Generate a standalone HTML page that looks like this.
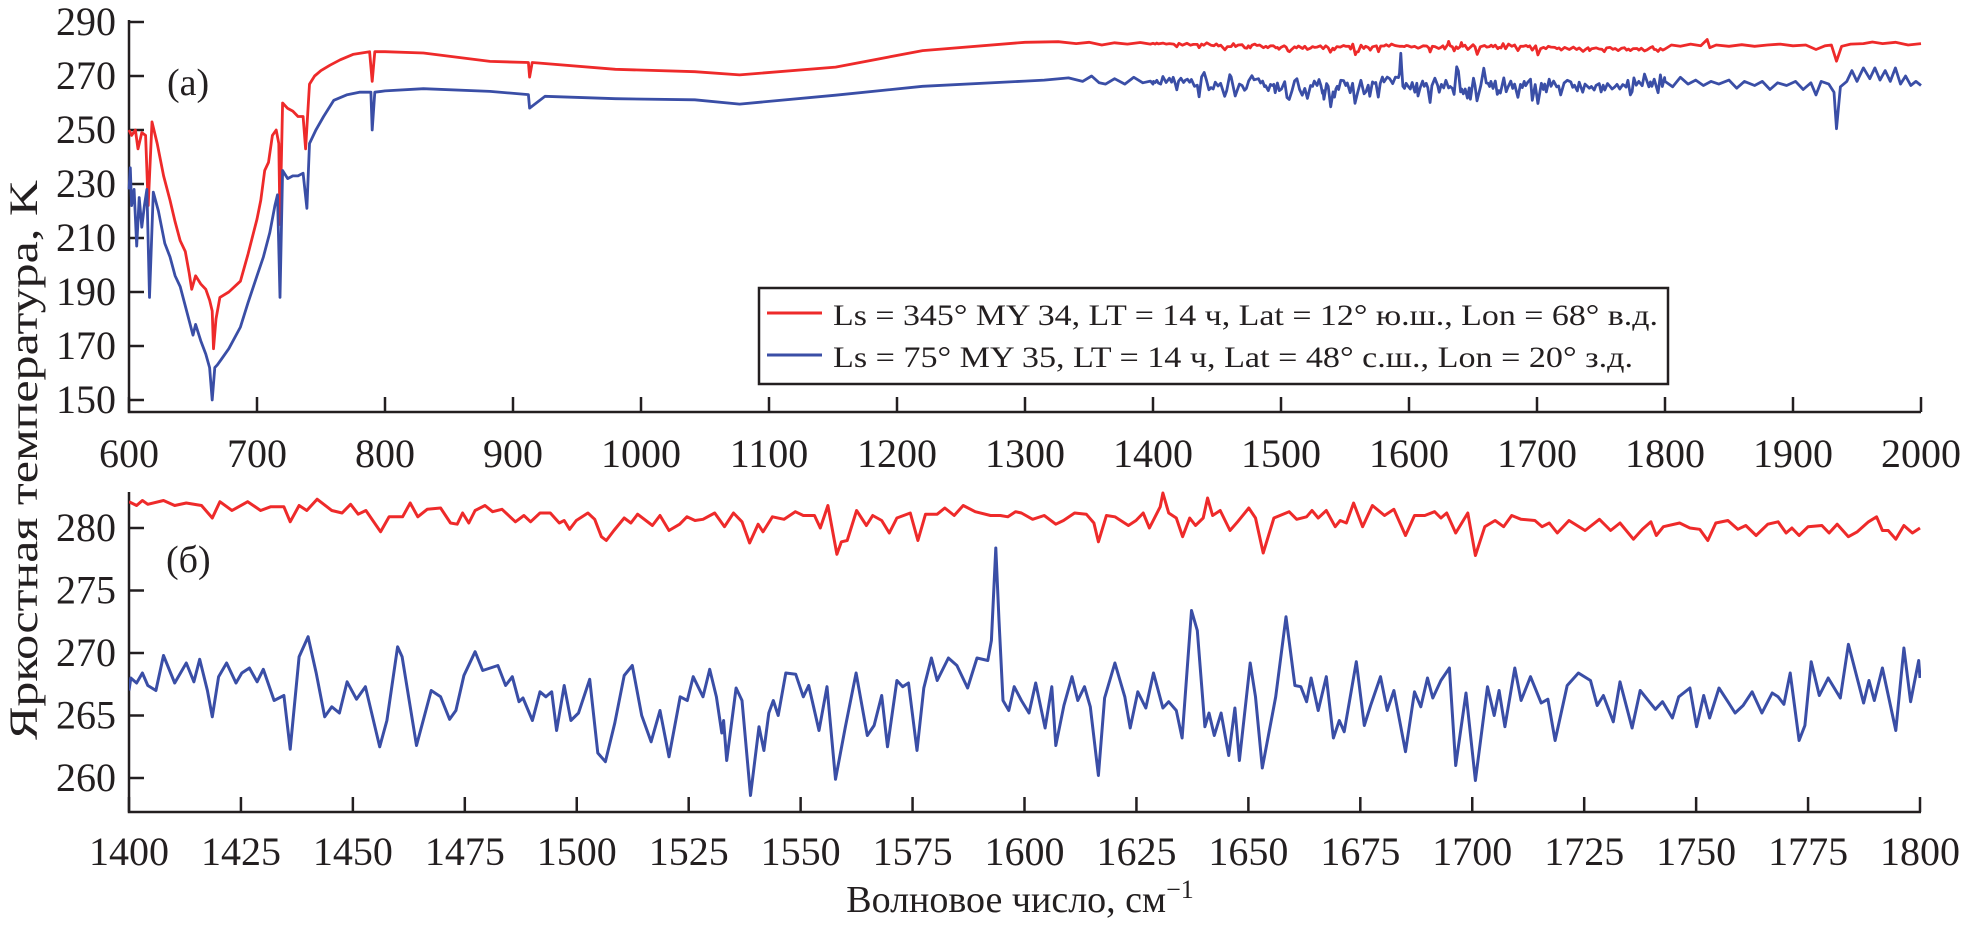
<!DOCTYPE html>
<html><head><meta charset="utf-8"><style>
html,body{margin:0;padding:0;background:#fff;}
svg{display:block;font-family:"Liberation Serif","DejaVu Serif",serif;}
</style></head><body>
<svg id="chart" width="1961" height="927" viewBox="0 0 1961 927" xmlns="http://www.w3.org/2000/svg">
<g id="top-panel"></g>
<g id="bottom-panel"></g>
<text transform="translate(37,460) rotate(-90)" text-anchor="middle" font-size="40" textLength="560" lengthAdjust="spacingAndGlyphs" fill="#231f20">Яркостная температура, K</text>
<text x="1020" y="912" text-anchor="middle" font-size="38" fill="#231f20">Волновое число, см<tspan dy="-14" font-size="26">−1</tspan></text>
<text x="167" y="95" font-size="38" fill="#231f20">(a)</text>
<text x="166" y="572" font-size="38" fill="#231f20">(б)</text>
<g>
<rect x="759" y="288" width="909" height="96" fill="#fff" stroke="#231f20" stroke-width="2.5"/>
<line x1="767" y1="313" x2="822" y2="313" stroke="#ee2a2a" stroke-width="3"/>
<text x="833" y="325" font-size="30" textLength="825" lengthAdjust="spacingAndGlyphs" fill="#231f20">Ls = 345° MY 34, LT = 14 ч, Lat = 12° ю.ш., Lon = 68° в.д.</text>
<line x1="767" y1="355" x2="822" y2="355" stroke="#3a4ea6" stroke-width="3"/>
<text x="833" y="367" font-size="30" textLength="800" lengthAdjust="spacingAndGlyphs" fill="#231f20">Ls = 75° MY 35, LT = 14 ч, Lat = 48° с.ш., Lon = 20° з.д.</text>
</g>
</svg>
<script>
// ---- data ----
const topXTicks = [600,700,800,900,1000,1100,1200,1300,1400,1500,1600,1700,1800,1900,2000];
const topYTicks = [150,170,190,210,230,250,270,290];
const botXTicks = [1400,1425,1450,1475,1500,1525,1550,1575,1600,1625,1650,1675,1700,1725,1750,1775,1800];
const botYTicks = [260,265,270,275,280];

const redTop = [[600,250],[602,248],[605,250],[607,243],[610,249],[613,248],[615,222],[618,253],[622,245],[627,233],[632,224],[636,216],[640,209],[644,205],[647,197],[649,191],[652,196],[656,193],[660,191],[663,187],[665,183],[666,169],[668,180],[671,188],[678,190],[687,194],[693,204],[700,217],[703,224],[706,235],[709,238],[712,248],[715,250],[717,245],[718,215],[720,260],[724,258],[728,257],[732,255],[736,255],[738,243],[741,267],[745,270],[750,272],[757,274],[765,276],[775,278],[788,279],[790,268],[792,279],[800,279],[830,278.5],[882,275.4],[912,275],[913,269.6],[915,275],[980,272.5],[1042,271.6],[1077,270.4],[1152,273.3],[1220,279.4],[1300,282.5],[1326,282.7],[1340,282],[1350,282.5],[1360,281.5],[1370,282.3],[1380,281.8],[1390,282.4],[1398,281.8]];
const blueTop = [[600,228],[601,236],[602,222],[604,228],[606,207],[608,225],[610,214],[612,222],[614,228],[616,188],[619,227],[623,220],[628,208],[632,203],[636,196],[640,192],[645,183],[650,174],[652,178],[656,172],[660,167],[663,162],[665,150],[667,162],[669,163],[672,165],[678,169],[687,177],[693,186],[700,196],[705,203],[710,212],[714,222],[716,226],[718,188],[720,235],[724,232],[728,233],[732,233],[736,234],[739,221],[741,245],[746,250],[752,255],[760,261],[770,263],[780,264],[789,264],[790,250],[792,264],[800,264.5],[830,265.3],[882,264.3],[912,263.1],[913,258.1],[925,262.5],[980,261.6],[1042,261.2],[1077,259.6],[1152,262.9],[1220,266.2],[1300,268.1],[1315,268.5],[1334,269.3],[1345,268],[1352,270],[1358,267.5],[1363,267],[1370,269],[1378,267],[1385,269.5],[1392,267.5],[1398,268.1]];

const redBottom = [[1400,282.1],[1401.7,281.8],[1403,282.2],[1404.2,281.9],[1407.7,282.2],[1410.2,281.8],[1412.8,282.0],[1416.2,281.8],[1418.6,280.8],[1420.3,282.1],[1423,281.4],[1426.5,282.1],[1429.4,281.4],[1431.6,281.7],[1434.6,281.7],[1436,280.5],[1438,281.8],[1439.7,281.4],[1442,282.3],[1445.3,281.4],[1447.6,281.2],[1449.5,281.9],[1451.2,281.1],[1452.9,281.4],[1456.2,279.7],[1458.1,280.9],[1461.1,280.9],[1462.8,282.0],[1464.5,280.9],[1466.6,281.5],[1469.6,281.6],[1471.8,280.4],[1473.3,280.3],[1474.5,281.2],[1475.9,280.4],[1477.3,281.4],[1479.5,281.8],[1481.2,281.3],[1483.3,281.5],[1486.3,280.5],[1488.2,281.0],[1489.7,280.5],[1491.8,281.2],[1494.1,281.2],[1496.1,280.4],[1497.2,280.6],[1498.4,279.9],[1499.9,280.6],[1502.5,281.2],[1504,280.7],[1505.5,279.3],[1506.6,279.0],[1508.3,279.8],[1510.6,280.8],[1512.1,280.4],[1513.6,281.1],[1516.9,280.2],[1518.6,281.0],[1520.6,279.8],[1523,280.3],[1524.6,280.9],[1526.4,280.6],[1528.2,280.7],[1530.8,281.2],[1533,280.1],[1535,281.2],[1536.9,280.5],[1538.6,278.8],[1540.5,280.3],[1541.6,279.7],[1543.7,280.9],[1546.3,280.7],[1548.8,281.3],[1550.6,281.0],[1553.1,281.0],[1554.4,280.0],[1556.1,281.8],[1558.1,277.9],[1559.1,278.9],[1560.4,279.0],[1562.5,281.4],[1564.7,280.2],[1566.1,281.0],[1568.1,280.6],[1569.8,279.6],[1571.5,280.8],[1574.5,281.2],[1576.2,279.0],[1577.9,281.1],[1580.5,281.1],[1582.2,281.6],[1584.3,281.0],[1586.3,281.8],[1589,281.3],[1592.4,281.0],[1594.6,281.0],[1596.3,280.9],[1598,281.3],[1599.3,281.2],[1601.8,280.7],[1604.4,281.0],[1607,280.3],[1608.7,280.6],[1611.2,281.2],[1613.8,281.1],[1615.5,280.4],[1616.5,278.9],[1618.3,281.0],[1620.2,280.9],[1623.2,280.2],[1624.9,280.6],[1626.5,281.2],[1627.9,280.0],[1630.3,281.7],[1630.9,282.8],[1632.2,281.2],[1633.9,280.8],[1635.3,279.3],[1636.9,280.8],[1638.2,280.2],[1639.9,280.8],[1640.9,282.4],[1642,281.0],[1643.7,281.4],[1645.9,279.8],[1647.6,280.5],[1650.1,281.6],[1651.6,280.8],[1653.3,278.0],[1655.7,280.8],[1659.1,281.3],[1660.8,280.7],[1663,280.9],[1664.2,281.4],[1665.6,280.8],[1667.4,281.4],[1669.4,280.1],[1670.5,280.6],[1671.9,280.4],[1673.5,282.0],[1675.5,280.1],[1677.7,281.8],[1680.4,281.0],[1682.5,281.5],[1685.1,279.4],[1687.1,281.0],[1689.4,281.0],[1691.6,281.3],[1693,280.8],[1694.3,281.2],[1696.3,279.6],[1699,281.2],[1700.7,277.8],[1702.8,280.1],[1705.1,280.6],[1707,280.1],[1708.8,281.0],[1710.9,280.7],[1714,280.6],[1715.6,280.1],[1717.2,280.4],[1719,279.6],[1721.6,280.6],[1725.2,279.8],[1728.4,280.7],[1730.9,279.8],[1733,280.4],[1736,279.1],[1738,279.9],[1739.9,280.5],[1741.1,279.4],[1742.7,280.1],[1746.3,280.4],[1748.6,280.0],[1750.8,279.9],[1752.6,279.0],[1754.4,280.4],[1757.1,280.6],[1759.3,279.9],[1761.1,280.2],[1763.4,279.4],[1766,280.3],[1768.3,280.5],[1770.1,279.6],[1771.4,280.0],[1773,279.4],[1775,280.1],[1778.1,280.2],[1779.7,279.6],[1781.5,280.3],[1784,279.3],[1786,279.7],[1788.5,280.5],[1790.3,280.9],[1791.6,279.8],[1792.9,279.8],[1794.6,279.1],[1796.4,280.2],[1798.3,279.6],[1800,280.0]];
const blueBottom = [[1400,267.0],[1400.4,268.0],[1401.7,267.6],[1403,268.4],[1404.2,267.4],[1406,267.0],[1407.7,269.8],[1410.2,267.6],[1412.8,269.2],[1414.5,267.7],[1415.8,269.5],[1417.5,267.0],[1418.6,264.9],[1420,268.1],[1421.8,269.2],[1423.9,267.6],[1425.2,268.4],[1426.9,268.8],[1428.6,267.7],[1430,268.7],[1432.4,266.2],[1434.6,266.6],[1436,262.3],[1438,269.7],[1440,271.3],[1441.8,268.4],[1443.7,264.9],[1445.3,265.7],[1447,265.2],[1448.7,267.7],[1450.8,266.3],[1452.8,267.3],[1456,262.5],[1457.6,264.6],[1460,270.5],[1461,269.7],[1464.2,262.6],[1467.5,267.0],[1469.6,266.5],[1471.6,264.7],[1473,265.4],[1474.8,268.2],[1477.3,270.1],[1479,268.6],[1482.4,269.0],[1484.1,267.4],[1485.6,268.1],[1487.1,266.1],[1488,266.4],[1490.1,264.6],[1491.8,266.9],[1493.1,266.5],[1494.4,266.9],[1495.5,263.8],[1497.2,267.4],[1498.7,264.6],[1500.4,265.2],[1502.9,267.9],[1504.7,262.0],[1506.4,261.3],[1508.5,264.4],[1510.6,268.2],[1512.4,269.0],[1514.5,265.0],[1516.6,262.9],[1518.6,265.4],[1520.6,261.7],[1523.1,266.5],[1524.7,266.2],[1526,268.1],[1528.2,266.5],[1529.7,268.7],[1531.2,266.5],[1532.4,263.6],[1532.8,264.6],[1533.5,261.4],[1535.6,267.2],[1536.9,266.2],[1538.8,258.6],[1540.7,264.1],[1541.8,262.2],[1542.9,265.2],[1543.9,266.2],[1545,265.0],[1546.7,268.4],[1548.9,268.3],[1550.6,266.5],[1551.8,267.4],[1554.1,263.8],[1555.9,267.3],[1557.8,259.9],[1560,264.1],[1562.4,268.4],[1564.9,263.4],[1566.4,264.2],[1568.1,266.6],[1569.4,262.5],[1571.5,267.8],[1572.8,267.3],[1574.1,267.6],[1576,262.2],[1577.5,267.2],[1579.2,269.6],[1580.5,267.8],[1583,269.6],[1584.9,269.0],[1587.3,267.2],[1589.4,269.6],[1591.8,269.4],[1592.6,271.0],[1593.6,278.4],[1594.3,272.6],[1595.2,266.2],[1596.5,265.4],[1597.7,267.3],[1599.3,266.2],[1601,265.2],[1602.5,267.6],[1604.6,264.0],[1606.1,267.3],[1607,262.6],[1608.8,265.8],[1610.6,268.1],[1611.9,266.2],[1613.4,267.3],[1614.7,265.7],[1616.5,260.2],[1617.9,266.4],[1620.2,269.2],[1622.4,266.5],[1623.6,264.0],[1625.3,266.9],[1627.1,265.6],[1628.8,268.4],[1630.9,265.6],[1632.2,266.1],[1633.9,265.4],[1635.2,263.2],[1637.3,273.4],[1638.6,271.8],[1640.3,264.1],[1641.2,265.2],[1642.4,263.4],[1643.9,265.2],[1645.6,261.8],[1647,265.6],[1648,261.4],[1650.4,269.2],[1651.6,266.5],[1653.1,260.8],[1656.1,266.5],[1658.4,272.9],[1660.4,267.4],[1661.7,267.3],[1663,266.1],[1664,268.0],[1665.6,265.4],[1667.4,268.1],[1669,263.2],[1670.3,264.6],[1671.4,263.7],[1674.1,269.3],[1675.9,264.2],[1677.3,265.8],[1679.5,268.1],[1681,265.4],[1682.5,267.0],[1685.1,262.1],[1687.1,266.9],[1688.5,265.7],[1690,268.0],[1691.2,266.4],[1693,267.8],[1694.9,268.8],[1696.3,261.0],[1698.6,266.8],[1700.7,259.8],[1703.4,267.3],[1704.9,265.0],[1706,267.0],[1707.3,264.1],[1709.5,268.8],[1710.9,266.2],[1713,268.1],[1715.4,266.0],[1716.9,266.3],[1718.5,263.0],[1721.2,267.4],[1723.7,268.4],[1726.4,267.8],[1727.9,265.8],[1729.3,266.6],[1731.5,264.5],[1733,267.7],[1735.7,264.0],[1737.5,267.0],[1740.9,265.5],[1742.5,266.1],[1744.7,264.8],[1746.1,266.5],[1748.6,267.2],[1750.1,264.1],[1751.7,266.6],[1753,264.8],[1755.1,267.2],[1757.1,266.1],[1758.7,265.2],[1760.5,265.8],[1762.5,266.9],[1764.7,265.2],[1767,266.8],[1768.3,266.5],[1769.6,265.9],[1771,268.4],[1773,263.0],[1774.3,264.2],[1775.7,269.3],[1777.5,266.6],[1779.5,268.0],[1782.2,266.4],[1784,270.7],[1787.4,266.0],[1788.6,267.8],[1789.8,266.2],[1791.6,268.8],[1794.6,263.8],[1796.4,270.4],[1797.9,266.1],[1799.7,269.4],[1800,268.0]];

const redTail = [[1805,281.5],[1812,281],[1820,281.8],[1828,281.2],[1833,283.5],[1835,280.5],[1840,281.5],[1850,281],[1860,281.6],[1870,281],[1880,281.5],[1890,281.8],[1900,281.2],[1910,281.5],[1918,279.8],[1925,281.2],[1930,281.5],[1934,275.5],[1938,281],[1945,281.8],[1955,282],[1962,282.6],[1970,282],[1980,282.5],[1990,281.5],[2000,282]];
const blueTail = [[1806,266],[1812,269.5],[1818,267],[1824,268.5],[1830,266.5],[1836,268],[1842,267],[1850,268.5],[1856,265.5],[1862,268],[1870,266.5],[1876,268],[1882,265],[1888,267.5],[1895,266.5],[1902,268],[1908,265],[1914,267.5],[1918,263],[1922,268],[1928,267],[1932,264],[1934,250.5],[1937,266],[1942,268],[1946,272],[1950,268],[1955,273],[1960,269],[1964,273],[1968,268.5],[1972,272],[1976,268],[1980,273],[1984,267],[1988,270],[1992,266.5],[1996,268],[2000,266.5]];

// ---- drawing ----
const NS = "http://www.w3.org/2000/svg";
const INK = "#231f20", RED = "#ee2a2a", BLUE = "#3a4ea6";
const xTop = v => 129 + (v - 600) * 1.28;
const yTop = t => 22 + (290 - t) * 2.7;
const xBot = v => 129 + (v - 1400) * 4.4775;
const yBot = t => 528 + (280 - t) * 12.5;

function mk(tag, attrs, parent) {
  const el = document.createElementNS(NS, tag);
  for (const k in attrs) el.setAttribute(k, attrs[k]);
  parent.appendChild(el);
  return el;
}
function pathOf(pts, fx, fy) {
  return pts.map((p, i) => (i ? "L" : "M") + fx(p[0]).toFixed(1) + " " + fy(p[1]).toFixed(1)).join("");
}

function drawAxes(g, left, right, top, bottom, xTicks, yTicks, fx, fy, xLabelY, prefix) {
  const ax = mk("path", {d: `M${left} ${top}L${left} ${bottom}L${right} ${bottom}`, fill: "none", stroke: INK, "stroke-width": 2.5}, g);
  
  
  xTicks.forEach(v => {
    const x = fx(v);
    const t = mk("line", {x1: x, y1: bottom, x2: x, y2: bottom - 15, stroke: INK, "stroke-width": 2.5}, g);
    
    
    const l = mk("text", {x: x, y: xLabelY, "text-anchor": "middle", "font-size": 40, fill: INK}, g);
    l.textContent = v;
    
    
  });
  yTicks.forEach(v => {
    const y = fy(v);
    const t = mk("line", {x1: left, y1: y, x2: left + 15, y2: y, stroke: INK, "stroke-width": 2.5}, g);
    
    
    const l = mk("text", {x: left - 13, y: y + 13, "text-anchor": "end", "font-size": 40, fill: INK}, g);
    l.textContent = v;
    
    
  });
}

const gTop = document.getElementById("top-panel");
const gBot = document.getElementById("bottom-panel");

const defs = mk("defs", {}, document.getElementById("chart"));
const cp = mk("clipPath", {id: "botclip"}, defs);
mk("rect", {x: 129, y: 480, width: 1792, height: 332}, cp);

drawAxes(gTop, 129, 1921, 20, 412, topXTicks, topYTicks, xTop, yTop, 467, "top");
drawAxes(gBot, 129, 1921, 492, 812, botXTicks, botYTicks, xBot, yBot, 865, "bottom");

const redAll = redTop.concat(redBottom, redTail);
const blueAll = blueTop.concat(blueBottom, blueTail);

const rt = mk("path", {d: pathOf(redAll, xTop, yTop), fill: "none", stroke: RED, "stroke-width": 2.8, "stroke-linejoin": "round"}, gTop);


const bt = mk("path", {d: pathOf(blueAll, xTop, yTop), fill: "none", stroke: BLUE, "stroke-width": 2.8, "stroke-linejoin": "round"}, gTop);



const rb = mk("path", {d: pathOf(redBottom, xBot, yBot), fill: "none", stroke: RED, "stroke-width": 3, "stroke-linejoin": "round", "clip-path": "url(#botclip)"}, gBot);


const bb = mk("path", {d: pathOf(blueBottom, xBot, yBot), fill: "none", stroke: BLUE, "stroke-width": 3, "stroke-linejoin": "round", "clip-path": "url(#botclip)"}, gBot);


</script>
</body></html>
